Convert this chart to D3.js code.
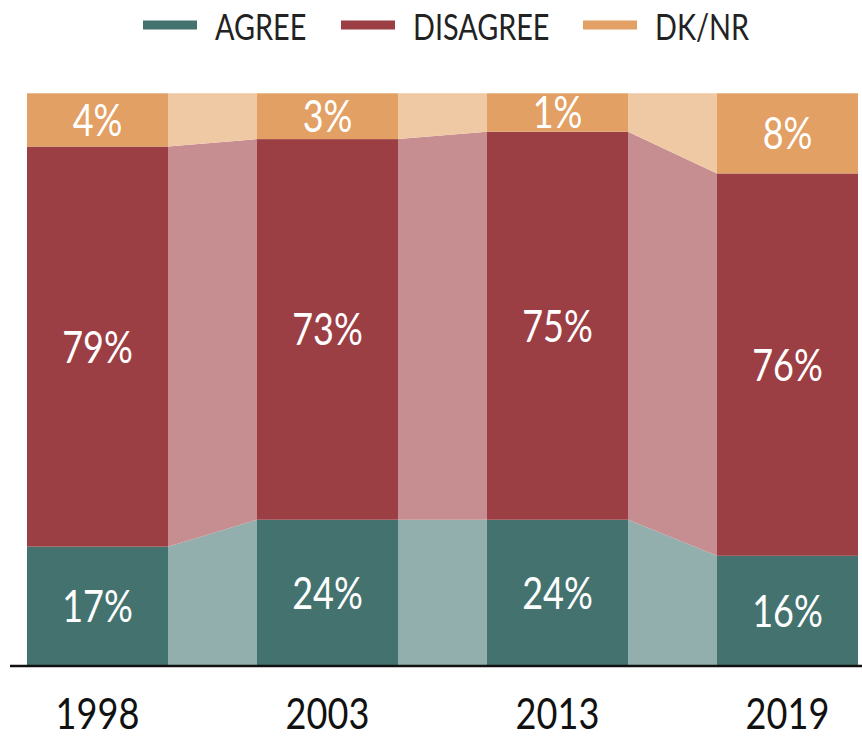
<!DOCTYPE html>
<html lang="en">
  <head>
    <meta charset="utf-8" />
    <title>Agree / Disagree 1998-2019</title>
    <script src="https://d3js.org/d3.v7.min.js"></script>
    <style>
      body { margin: 0; background: #fff; }
      svg { display: block; font-family: Lato, "Open Sans", sans-serif; }
    </style>
  </head>
  <body>
    <div id="chart"></div>
    <script>
      // survey years
      var years = ["1998", "2003", "2013", "2019"];
      var series = ["AGREE", "DISAGREE", "DK/NR"];

      // printed percentages
      var agreeLabels = [17, 24, 24, 16];
      var disagreeLabels = [79, 73, 75, 76];
      var dkLabels = [4, 3, 1, 8];

      // segment heights as drawn in the original (share of bar, %)
      var agreeHeights = [20.8, 25.5, 25.5, 19.2];
      var disagreeHeights = [69.9, 66.5, 67.8, 66.8];
      var dkHeights = [9.3, 8.0, 6.7, 14.0];

      var colors = ["#44736f", "#9c3f45", "#e2a064"];
      var lightColors = ["#92afae", "#c68e91", "#efc8a4"];

      var width = 862, height = 736;
      var squeeze = 0.8; // the original type is narrow

      var table = years.map(function (y, i) {
        return {
          year: y,
          "AGREE": agreeHeights[i],
          "DISAGREE": disagreeHeights[i],
          "DK/NR": dkHeights[i],
          labels: [agreeLabels[i], disagreeLabels[i], dkLabels[i]]
        };
      });

      var stacked = d3.stack().keys(series)(table);

      var x = d3.scaleBand()
        .domain(years)
        .range([27, 858])
        .paddingInner(0.387)
        .paddingOuter(0);

      var y = d3.scaleLinear().domain([0, 100]).range([665.7, 93.3]);

      var svg = d3.select("#chart")
        .append("svg")
        .attr("width", width)
        .attr("height", height);

      // connecting bands between bars
      var links = svg.append("g").attr("class", "links");
      stacked.forEach(function (layer, k) {
        for (var i = 0; i < layer.length - 1; i++) {
          var a = layer[i], b = layer[i + 1];
          var x0 = x(years[i]) + x.bandwidth();
          var x1 = x(years[i + 1]);
          var pts = [
            [x0, y(a[1])], [x1, y(b[1])],
            [x1, y(b[0])], [x0, y(a[0])]
          ];
          links.append("path")
            .attr("d", "M" + pts.join("L") + "Z")
            .attr("fill", lightColors[k]);
        }
      });

      // bars
      var bars = svg.append("g").attr("class", "bars");
      stacked.forEach(function (layer, k) {
        bars.selectAll(".seg" + k)
          .data(layer)
          .enter()
          .append("rect")
          .attr("x", function (d) { return x(d.data.year); })
          .attr("y", function (d) { return y(d[1]); })
          .attr("width", x.bandwidth())
          .attr("height", function (d) { return y(d[0]) - y(d[1]); })
          .attr("fill", colors[k]);

        bars.selectAll(".lab" + k)
          .data(layer)
          .enter()
          .append("text")
          .attr("transform", function (d) {
            var cx = x(d.data.year) + x.bandwidth() / 2;
            var cy = (y(d[0]) + y(d[1])) / 2 + 16;
            return "translate(" + cx + "," + cy + ") scale(" + squeeze + ",1)";
          })
          .attr("text-anchor", "middle")
          .attr("fill", "#fff")
          .style("font-size", "45px")
          .text(function (d) { return d.data.labels[k] + "%"; });
      });

      // baseline
      svg.append("line")
        .attr("x1", 10)
        .attr("x2", 862)
        .attr("y1", 666)
        .attr("y2", 666)
        .attr("stroke", "#111")
        .attr("stroke-width", 2.5);

      // year labels
      var axis = svg.append("g")
        .attr("transform", "translate(0,666)")
        .call(d3.axisBottom(x).tickSize(0));
      axis.select(".domain").remove();
      axis.selectAll("text")
        .attr("y", 63)
        .attr("dy", null)
        .attr("transform", "scale(0.86,1)")
        .attr("fill", "#111")
        .style("font-family", "Lato, sans-serif")
        .style("font-size", "42px");

      // legend
      var legendX = [143, 341, 583];
      var legend = svg.append("g").attr("class", "legend");
      series.forEach(function (s, k) {
        legend.append("rect")
          .attr("x", legendX[k])
          .attr("y", 20.5)
          .attr("width", 54)
          .attr("height", 9)
          .attr("fill", colors[k]);
        legend.append("text")
          .attr("transform", "translate(" + (legendX[k] + 72) + ",40) scale(" + squeeze + ",1)")
          .attr("fill", "#222")
          .style("font-size", "36px")
          .text(s);
      });
    </script>
  </body>
</html>
